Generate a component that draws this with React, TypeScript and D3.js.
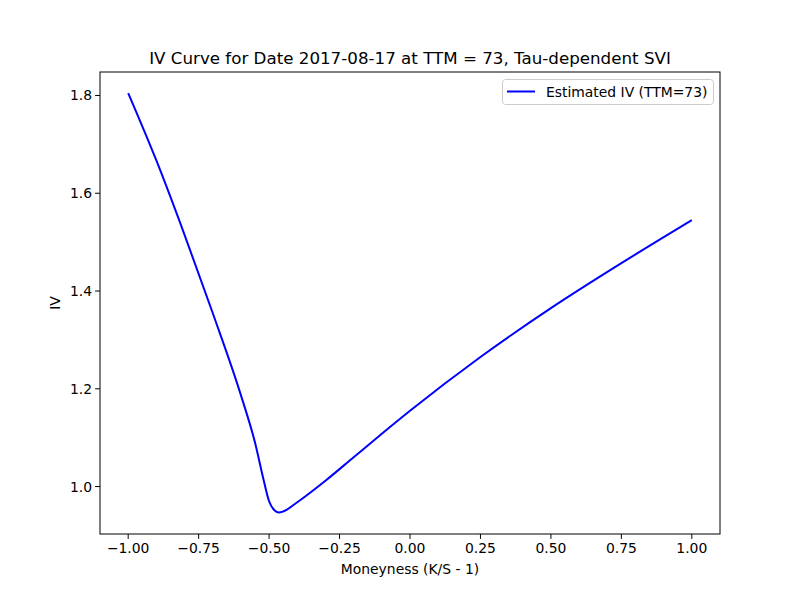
import * as d3 from 'd3';

// moneyness values and estimated IV
const moneyness = [-1.0, -0.9, -0.8, -0.7, -0.6, -0.55, -0.52, -0.5, -0.48, -0.465, -0.45, -0.4, -0.3, -0.2, -0.1, 0.0, 0.25, 0.5, 0.75, 1.0];
const ivValues = [1.805, 1.667, 1.515, 1.355, 1.187, 1.09, 1.015, 0.97, 0.951, 0.947, 0.949, 0.968, 1.012, 1.06, 1.108, 1.155, 1.265, 1.365, 1.457, 1.545];
const xTicks = [-1.0, -0.75, -0.5, -0.25, 0.0, 0.25, 0.5, 0.75, 1.0];
const yTicks = [1.0, 1.2, 1.4, 1.6, 1.8];

const W = 800, H = 600;
const L = 100, R = 720, T = 72, B = 534;
const font = 'DejaVu Sans, sans-serif';

export default function App() {
  const x = d3.scaleLinear().domain([-1.1, 1.1]).range([L, R]);
  const y = d3.scaleLinear().domain([0.903, 1.848]).range([B, T]);
  const pts = moneyness.map((m, i) => [m, ivValues[i]] as [number, number]);
  const line = d3.line<[number, number]>().x(d => x(d[0])).y(d => y(d[1])).curve(d3.curveMonotoneX);

  return (
    <svg width={W} height={H} style={{ position: 'absolute', left: 0, top: 0, background: '#fff' }} fontFamily={font}>
      <rect x={0} y={0} width={W} height={H} fill="#fff" />
      <path d={line(pts) || ''} fill="none" stroke="blue" strokeWidth={2} />
      <rect x={L} y={T} width={R - L} height={B - T} fill="none" stroke="#000" strokeWidth={1} />
      {xTicks.map(t => (
        <g key={t}>
          <line x1={x(t)} x2={x(t)} y1={B} y2={B + 4.9} stroke="#000" />
          <text x={x(t)} y={B + 19} fontSize={13.9} textAnchor="middle">{d3.format('.2f')(t).replace('-', '\u2212')}</text>
        </g>
      ))}
      {yTicks.map(t => (
        <g key={t}>
          <line x1={L - 4.9} x2={L} y1={y(t)} y2={y(t)} stroke="#000" />
          <text x={L - 8} y={y(t) + 5} fontSize={13.9} textAnchor="end">{d3.format('.1f')(t)}</text>
        </g>
      ))}
      <text x={(L + R) / 2} y={574} fontSize={13.9} textAnchor="middle">Moneyness (K/S - 1)</text>
      <text transform={`translate(60,${(T + B) / 2}) rotate(-90)`} fontSize={13.9} textAnchor="middle">IV</text>
      <text x={(L + R) / 2} y={64} fontSize={16.7} textAnchor="middle">IV Curve for Date 2017-08-17 at TTM = 73, Tau-dependent SVI</text>
      <rect x={502.5} y={79.5} width={211} height={25} rx={3} fill="#fff" stroke="#ccc" />
      <line x1={507} x2={535} y1={91.5} y2={91.5} stroke="blue" strokeWidth={2} />
      <text x={546} y={96.5} fontSize={13.9}>Estimated IV (TTM=73)</text>
    </svg>
  );
}
